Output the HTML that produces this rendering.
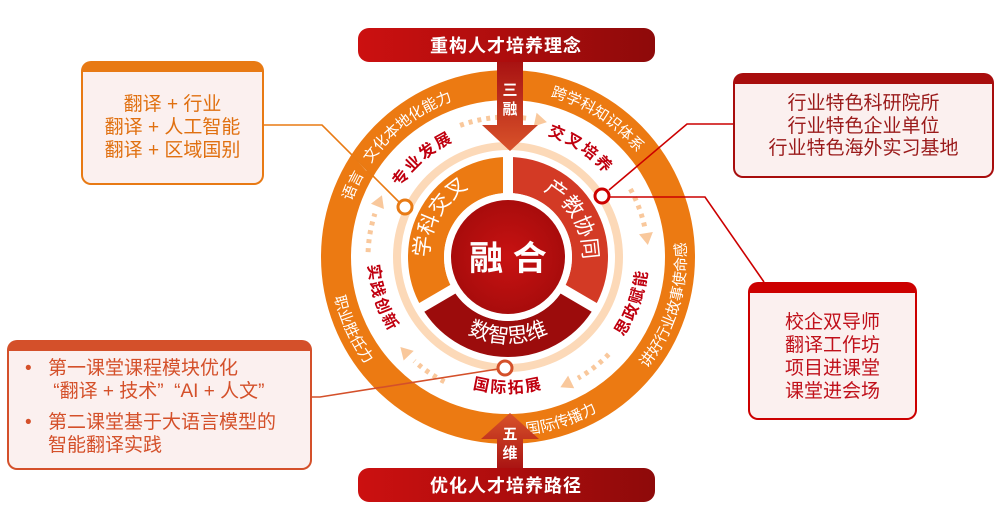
<!DOCTYPE html>
<html><head><meta charset="utf-8"><style>
html,body{margin:0;padding:0;width:999px;height:505px;overflow:hidden;background:#fff;font-family:"Liberation Sans","Noto Sans CJK SC",sans-serif}
.box{position:absolute;box-sizing:border-box;border:2px solid;border-top-width:11px;border-radius:10px;background:#fbf0ef;text-align:center;font-size:19px}
svg{position:absolute;left:0;top:0}
</style></head><body>
<svg width="999" height="505" viewBox="0 0 999 505" font-family="'Liberation Sans','Noto Sans CJK SC',sans-serif">
<defs>
<linearGradient id="bn" x1="0" x2="1"><stop offset="0" stop-color="#cc1010"/><stop offset="1" stop-color="#8e0a0a"/></linearGradient>
<linearGradient id="ad" x1="0" y1="0" x2="0" y2="1"><stop offset="0" stop-color="#a81212"/><stop offset="1" stop-color="#d9532a"/></linearGradient>
<linearGradient id="au" x1="0" y1="1" x2="0" y2="0"><stop offset="0" stop-color="#a81212"/><stop offset="1" stop-color="#d9532a"/></linearGradient>
<radialGradient id="cc"><stop offset="0" stop-color="#c81212"/><stop offset="1" stop-color="#a80c0c"/></radialGradient>
<path id="o1" d="M357.6,327.2 A166,166 0 0 1 578.2,106.6"/>
<path id="o2" d="M408.1,124.4 A166,166 0 0 1 669.7,294.3"/>
<path id="o3" d="M517.3,434.8 A178,178 0 0 0 615.1,114.8"/>
<path id="o4" d="M367.7,366.6 A178,178 0 0 0 685.9,263.2"/>
<path id="o5" d="M382.1,131.1 A178,178 0 0 0 523.5,434.3"/>
<path id="i1" d="M382.4,281.4 A128,128 0 0 1 549.7,136"/>
<path id="i2" d="M451.9,142 A128,128 0 0 1 635.7,265.9"/>
<path id="i3" d="M532.3,394.9 A140,140 0 0 0 615.2,167"/>
<path id="i4" d="M390.2,325 A136,136 0 0 0 625.8,325"/>
<path id="i5" d="M404,163.3 A140,140 0 0 0 478.9,393.9"/>
<path id="s1" d="M439.6,296.5 A79,79 0 0 1 508,178"/>
<path id="s2" d="M508,182 A75,75 0 0 1 573,294.5"/>
<path id="s3" d="M433.5,300 A86,86 0 0 0 582.5,300"/>
</defs>
<circle cx="508" cy="257" r="172" fill="#fff" stroke="#ec7a12" stroke-width="30"/>
<circle cx="508" cy="257" r="111" fill="none" stroke="#fcd9b8" stroke-width="8"/>
<path d="M508,175 A82,82 0 0 1 579,298" fill="none" stroke="#d33a25" stroke-width="36"/>
<path d="M579,298 A82,82 0 0 1 437,298" fill="none" stroke="#9c0c0c" stroke-width="36"/>
<path d="M437,298 A82,82 0 0 1 508,175" fill="none" stroke="#ec7a12" stroke-width="36"/>
<g stroke="#fff" stroke-width="10"><line x1="508" y1="257" x2="508" y2="153"/><line x1="508" y1="257" x2="597" y2="309"/><line x1="508" y1="257" x2="419" y2="309"/></g>
<circle cx="508" cy="257" r="64" fill="#fff"/>
<circle cx="508" cy="257" r="57" fill="url(#cc)"/>
<text x="508" y="270" text-anchor="middle" fill="#fff" font-size="34" font-weight="bold">融 合</text>
<g fill="#fff" font-size="21"><text><textPath href="#s1" startOffset="50%" text-anchor="middle">学科交叉</textPath></text>
<text><textPath href="#s2" startOffset="50%" text-anchor="middle">产教协同</textPath></text>
<text><textPath href="#s3" startOffset="50%" text-anchor="middle">数智思维</textPath></text></g>
<g fill="#fff" font-size="15"><text><textPath href="#o1" startOffset="50%" text-anchor="middle">语言 / 文化本地化能力</textPath></text>
<text><textPath href="#o2" startOffset="50%" text-anchor="middle">跨学科知识体系</textPath></text>
<text><textPath href="#o3" startOffset="50%" text-anchor="middle">讲好行业故事使命感</textPath></text>
<text><textPath href="#o4" startOffset="50%" text-anchor="middle">国际传播力</textPath></text>
<text><textPath href="#o5" startOffset="50%" text-anchor="middle">职业胜任力</textPath></text></g>
<g fill="#c0000f" font-size="16" font-weight="bold" letter-spacing="2"><text><textPath href="#i1" startOffset="50%" text-anchor="middle">专业发展</textPath></text>
<text><textPath href="#i2" startOffset="50%" text-anchor="middle">交叉培养</textPath></text>
<text><textPath href="#i3" startOffset="50%" text-anchor="middle">思政赋能</textPath></text>
<text><textPath href="#i4" startOffset="50%" text-anchor="middle">国际拓展</textPath></text>
<text><textPath href="#i5" startOffset="50%" text-anchor="middle">实践创新</textPath></text></g>
<g fill="none" stroke="#f9c89c" stroke-width="5" stroke-dasharray="4 5">
<path d="M460.1,125.4 A140,140 0 0 1 527.5,118.4"/>
<path d="M630.4,189.1 A140,140 0 0 1 644.9,227.9"/>
<path d="M608.7,354.3 A140,140 0 0 1 578,378.2"/>
<path d="M444.4,381.7 A140,140 0 0 1 414.3,361"/>
<path d="M368.1,252.1 A140,140 0 0 1 374.9,213.7"/></g>
<g fill="#f9c89c">
<polygon points="506,110 506,124 518,117" transform="rotate(12 508 257)"/>
<polygon points="506,110 506,124 518,117" transform="rotate(81 508 257)"/>
<polygon points="506,110 506,124 518,117" transform="rotate(154 508 257)"/>
<polygon points="506,110 506,124 518,117" transform="rotate(226 508 257)"/>
<polygon points="506,110 506,124 518,117" transform="rotate(292 508 257)"/></g>
<polygon points="497,62 523,62 523,125 538,125 510,151 482,125 497,125" fill="url(#ad)"/>
<text x="510" y="95" text-anchor="middle" fill="#fff" font-size="15" font-weight="bold">三</text>
<text x="510" y="114" text-anchor="middle" fill="#fff" font-size="15" font-weight="bold">融</text>
<polygon points="497,470 523,470 523,439 539,439 510,413 481,439 497,439" fill="url(#au)"/>
<text x="510" y="439" text-anchor="middle" fill="#fff" font-size="15" font-weight="bold">五</text>
<text x="510" y="458" text-anchor="middle" fill="#fff" font-size="15" font-weight="bold">维</text>
<rect x="358" y="28" width="297" height="34" rx="11" fill="url(#bn)"/>
<text x="506" y="52" text-anchor="middle" fill="#fff" font-size="18" font-weight="bold" letter-spacing="1">重构人才培养理念</text>
<rect x="358" y="468" width="297" height="34" rx="11" fill="url(#bn)"/>
<text x="506" y="492" text-anchor="middle" fill="#fff" font-size="18" font-weight="bold" letter-spacing="1">优化人才培养路径</text>
<polyline points="264,125 322,125 399,202" fill="none" stroke="#e87a14" stroke-width="1.6"/>
<polyline points="609,190 687,124 733,124" fill="none" stroke="#c00" stroke-width="1.6"/>
<polyline points="609,197 705,197 764,282" fill="none" stroke="#c00" stroke-width="1.6"/>
<polyline points="312,397 320,397 498,369" fill="none" stroke="#d4502a" stroke-width="1.6"/>
<circle cx="405" cy="207" r="7" fill="#fff" stroke="#e87a14" stroke-width="3"/>
<circle cx="602" cy="196" r="7" fill="#fff" stroke="#c00" stroke-width="3"/>
<circle cx="505" cy="368" r="7" fill="#fff" stroke="#d4502a" stroke-width="3"/>
</svg>
<div class="box" style="left:81px;top:61px;width:183px;height:124px;border-color:#e87a14;color:#e07010;line-height:23px;padding-top:21px">翻译 + 行业<br>翻译 + 人工智能<br>翻译 + 区域国别</div>
<div class="box" style="left:733px;top:73px;width:261px;height:105px;border-color:#a80d0d;color:#9a1a1a;line-height:22.5px;padding-top:9px">行业特色科研院所<br>行业特色企业单位<br>行业特色海外实习基地</div>
<div class="box" style="left:748px;top:282px;width:169px;height:138px;border-color:#c00;color:#c0101a;line-height:23px;padding-top:18px">校企双导师<br>翻译工作坊<br>项目进课堂<br>课堂进会场</div>
<div class="box" style="left:7px;top:340px;width:305px;height:130px;border-color:#d4502a;color:#d4502a;text-align:left;line-height:23px;padding-top:6px;padding-left:14px">
<div style="position:relative;padding-left:25px"><span style="position:absolute;left:2px">•</span>第一课堂课程模块优化<br>&nbsp;“翻译 + 技术”&nbsp;&nbsp;“AI + 人文”</div>
<div style="position:relative;padding-left:25px;margin-top:8px"><span style="position:absolute;left:2px">•</span>第二课堂基于大语言模型的<br>智能翻译实践</div>
</div>
</body></html>
